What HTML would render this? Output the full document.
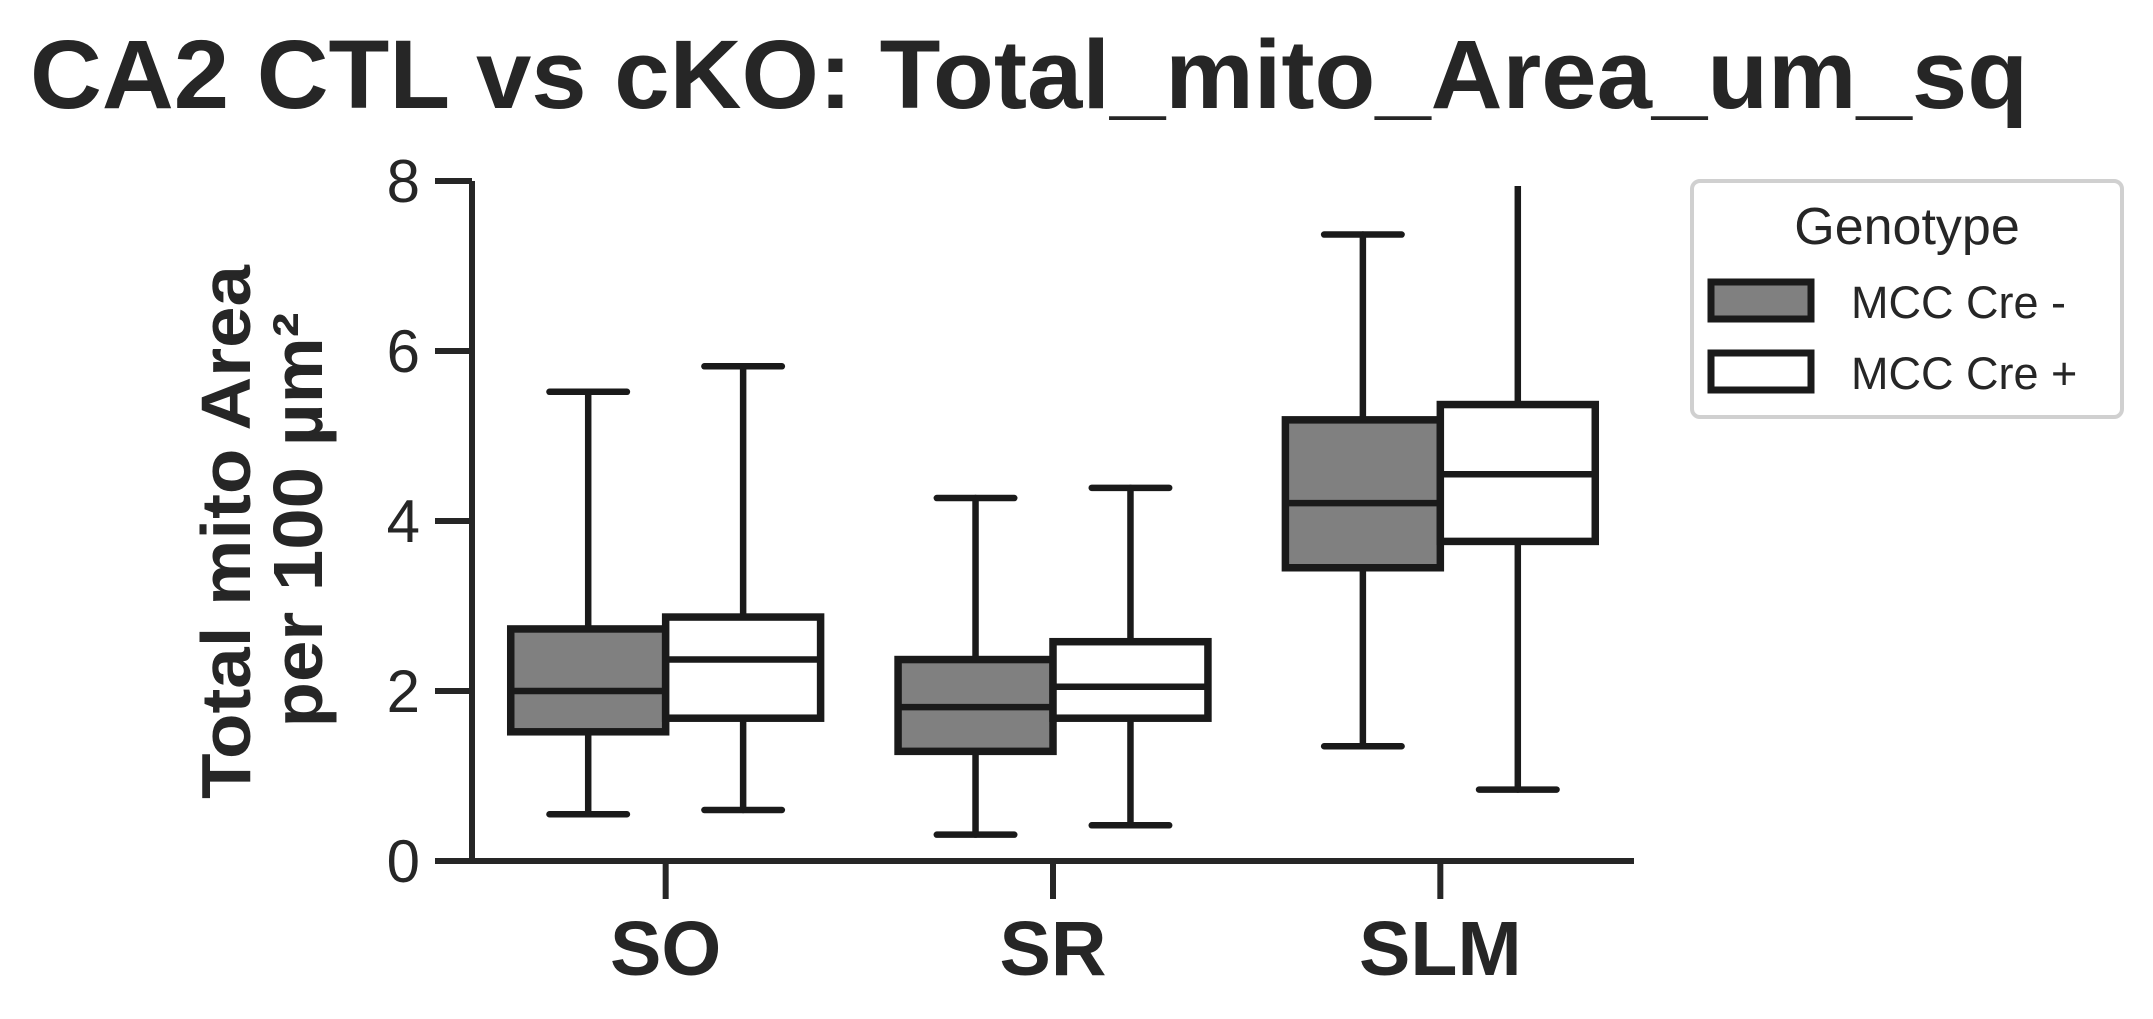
<!DOCTYPE html>
<html><head><meta charset="utf-8"><style>html,body{margin:0;padding:0;background:#fff}svg{display:block}text{font-family:"Liberation Sans",Arial,sans-serif;fill:#262626}</style></head>
<body>
<svg id="chart" width="2153" height="1019" viewBox="0 0 2153 1019" xmlns="http://www.w3.org/2000/svg">
<defs><clipPath id="plotclip"><rect x="472" y="186" width="1170" height="700"/></clipPath></defs>
<text x="30" y="108" font-size="97" font-weight="bold" textLength="1998" lengthAdjust="spacingAndGlyphs">CA2 CTL vs cKO: Total_mito_Area_um_sq</text>
<g>
<text transform="translate(250,532) rotate(-90)" text-anchor="middle" font-size="70" font-weight="bold" textLength="534" lengthAdjust="spacingAndGlyphs">Total mito Area</text>
<text transform="translate(322,520) rotate(-90)" text-anchor="middle" font-size="70" font-weight="bold" textLength="415" lengthAdjust="spacingAndGlyphs">per 100 µm²</text>
</g>
<g id="axes"></g>
<g id="boxes" clip-path="url(#plotclip)"></g>
<g>
<rect x="1692" y="181" width="430" height="236" rx="8" fill="#fff" stroke="#d0d0d0" stroke-width="4"/>
<text x="1907" y="244" text-anchor="middle" font-size="52">Genotype</text>
<rect x="1711" y="282" width="100" height="37" fill="#808080" stroke="#1a1a1a" stroke-width="7"/>
<text x="1851" y="318" font-size="45">MCC Cre -</text>
<rect x="1711" y="353" width="100" height="37" fill="#fff" stroke="#1a1a1a" stroke-width="7"/>
<text x="1851" y="389" font-size="45">MCC Cre +</text>
</g>
</svg>
<script>
const categories = ["SO","SR","SLM"];
const yTicks = [0,2,4,6,8];
const creMinusStats = [[0.55,1.52,2.0,2.73,5.52],[0.31,1.29,1.81,2.37,4.27],[1.35,3.45,4.21,5.19,7.37]];
const crePlusStats = [[0.6,1.68,2.37,2.87,5.82],[0.42,1.68,2.05,2.58,4.39],[0.84,3.76,4.55,5.37,8.0]];

const NS="http://www.w3.org/2000/svg";
const x0=472,x1=1634,yBase=861,yTop=181;
const yS=v=>yBase-(v/8)*(yBase-yTop);
const band=(x1-x0)/categories.length;
const xC=i=>x0+band*(i+0.5);
function mk(tag,attrs,parent){const e=document.createElementNS(NS,tag);for(const k in attrs)e.setAttribute(k,attrs[k]);parent.appendChild(e);return e;}
const axes=document.getElementById('axes');
let e=mk('line',{x1:x0,y1:yTop,x2:x0,y2:yBase+3,stroke:'#262626','stroke-width':6},axes);


e=mk('line',{x1:x0-3,y1:yBase,x2:x1,y2:yBase,stroke:'#262626','stroke-width':6},axes);


yTicks.forEach(t=>{
  const y=yS(t);
  let l=mk('line',{x1:435,y1:y,x2:x0,y2:y,stroke:'#262626','stroke-width':6},axes);
  
  
  let tx=mk('text',{x:420,y:y+21,'text-anchor':'end','font-size':60},axes);
  tx.textContent=t;
  
  
});
categories.forEach((c,i)=>{
  const x=xC(i);
  let l=mk('line',{x1:x,y1:yBase,x2:x,y2:899,stroke:'#262626','stroke-width':6},axes);
  
  
  let tx=mk('text',{x:x,y:975,'text-anchor':'middle','font-size':77,'font-weight':'bold'},axes);
  tx.textContent=c;
  
  
});
const boxes=document.getElementById('boxes');
const bw=band*0.8/2;
function drawBox(s,cx,fill,name){
  const g=mk('g',{},boxes);
  
  
  const st={stroke:'#1a1a1a','stroke-width':6.5,'stroke-linecap':'round'};
  const cw=bw*0.5;
  mk('line',Object.assign({x1:cx,y1:yS(s[0]),x2:cx,y2:yS(s[1])},st),g);
  mk('line',Object.assign({x1:cx,y1:yS(s[3]),x2:cx,y2:yS(s[4])},st),g);
  mk('line',Object.assign({x1:cx-cw/2,y1:yS(s[0]),x2:cx+cw/2,y2:yS(s[0])},st),g);
  mk('line',Object.assign({x1:cx-cw/2,y1:yS(s[4]),x2:cx+cw/2,y2:yS(s[4])},st),g);
  mk('rect',{x:cx-bw/2,y:yS(s[3]),width:bw,height:yS(s[1])-yS(s[3]),fill:fill,stroke:'#1a1a1a','stroke-width':7.5},g);
  mk('line',{x1:cx-bw/2,y1:yS(s[2]),x2:cx+bw/2,y2:yS(s[2]),stroke:'#1a1a1a','stroke-width':6.5},g);
}
categories.forEach((c,i)=>{
  drawBox(creMinusStats[i],xC(i)-bw/2,'#808080','box-'+c.toLowerCase()+'-cre-minus');
  drawBox(crePlusStats[i],xC(i)+bw/2,'#ffffff','box-'+c.toLowerCase()+'-cre-plus');
});
</script>
</body></html>
